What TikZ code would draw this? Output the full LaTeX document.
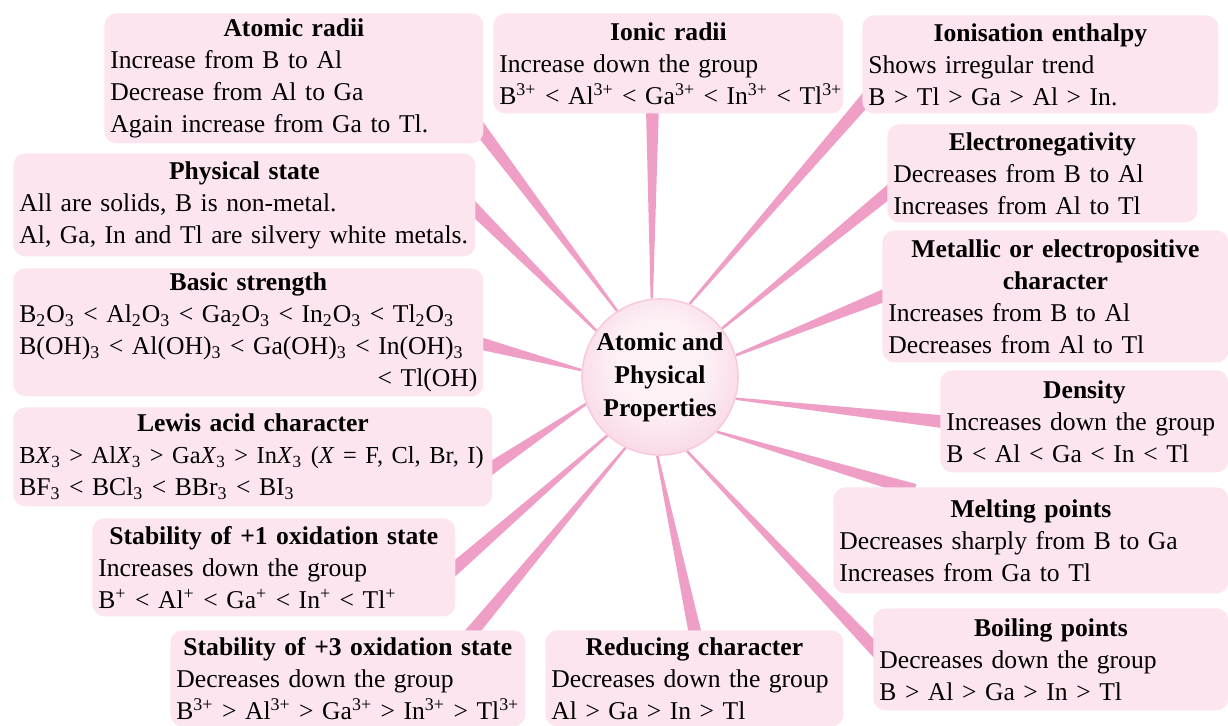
\documentclass[tikz,border=0pt]{standalone}
\usepackage{fontspec}
\setmainfont{Liberation Serif}[WordSpace=0.9]
\usetikzlibrary{calc,backgrounds}

\definecolor{boxpink}{HTML}{FCE5EF}
\definecolor{spokepink}{HTML}{EF9EC6}
\definecolor{hubin}{HTML}{FDF1F6}
\definecolor{hubout}{HTML}{F1A6C8}
\definecolor{hubrim}{HTML}{F8CADF}
\colorlet{hubmid}{hubin!60!hubout}

\pgfdeclareradialshading{hubshade}{\pgfpoint{0bp}{6bp}}{%
  color(0bp)=(hubin); color(14bp)=(hubin); color(32bp)=(hubmid); color(50bp)=(hubout)}

\newcommand\boxtitle[1]{\makebox[\linewidth][c]{\bfseries #1}}
% tapering spoke: wide end (#1) at a box, thin end (#2) on the hub
\newcommand\spoke[2]{%
  \path ($(#1)!-6pt!(#2)$) coordinate (sA) (#2) coordinate (sB);
  \fill[spokepink] ($(sA)!3.3pt!90:(sB)$) -- ($(sA)!3.3pt!-90:(sB)$)
    -- ($(sB)!0.6pt!90:(sA)$) -- ($(sB)!0.6pt!-90:(sA)$) -- cycle;}

\tikzset{
  prop/.style={rounded corners=6pt, fill=boxpink, anchor=north west,
    inner xsep=3pt, inner ysep=1.5pt,
    font=\fontsize{12.8}{16}\selectfont},
  hub/.style={circle, minimum size=78pt, inner sep=0pt, shading=hubshade,
    draw=hubrim, line width=0.8pt, align=center,
    font=\bfseries\fontsize{12.8}{16.5}\selectfont}
}

\begin{document}
\begin{tikzpicture}[x=0.5pt, y=-0.5pt]
  \useasboundingbox (0,0) rectangle (1228,726);

  \node[hub] (hub) at (660,377) {Atomic and\\Physical\\Properties};

  % left column
  \node[prop, text width=183.5pt, minimum height=65pt] (atom) at (104,13)
    {\boxtitle{Atomic radii}\\Increase from B to Al\\Decrease from Al to Ga\\Again increase from Ga to Tl.};
  \node[prop, text width=225pt, minimum height=51.5pt] (phys) at (13,153)
    {\boxtitle{Physical state}\\All are solids, B is non-metal.\\Al, Ga, In and Tl are silvery white metals.};
  \node[prop, text width=229pt, minimum height=64pt] (basic) at (13,268)
    {\boxtitle{Basic strength}\\B\textsubscript{2}O\textsubscript{3} < Al\textsubscript{2}O\textsubscript{3} < Ga\textsubscript{2}O\textsubscript{3} < In\textsubscript{2}O\textsubscript{3} < Tl\textsubscript{2}O\textsubscript{3}\\
     \mbox{B(OH)\textsubscript{3} < Al(OH)\textsubscript{3} < Ga(OH)\textsubscript{3} < In(OH)\textsubscript{3}}\\
     \mbox{}\hfill < Tl(OH)};
  \node[prop, text width=233.5pt, minimum height=49.5pt] (lewis) at (13,407)
    {\boxtitle{Lewis acid character}\\{\fontsize{12.2}{16}\selectfont\mbox{B\textit{X}\textsubscript{3} > Al\textit{X}\textsubscript{3} > Ga\textit{X}\textsubscript{3} > In\textit{X}\textsubscript{3} (\textit{X} = F, Cl, Br, I)}}\\
     BF\textsubscript{3} < BCl\textsubscript{3} < BBr\textsubscript{3} < BI\textsubscript{3}};
  \node[prop, text width=175.5pt, minimum height=49pt] (stabone) at (92,518)
    {\boxtitle{Stability of +1 oxidation state}\\Increases down the group\\
     B\textsuperscript{+} < Al\textsuperscript{+} < Ga\textsuperscript{+} < In\textsuperscript{+} < Tl\textsuperscript{+}};
  \node[prop, text width=171.5pt, minimum height=48pt] (stabthree) at (170,630)
    {\boxtitle{Stability of +3 oxidation state}\\Decreases down the group\\
     \mbox{B\textsuperscript{3+} > Al\textsuperscript{3+} > Ga\textsuperscript{3+} > In\textsuperscript{3+} > Tl\textsuperscript{3+}}};

  % top and bottom middle
  \node[prop, text width=169pt, minimum height=50pt] (ionic) at (493,13)
    {\boxtitle{Ionic radii}\\Increase down the group\\
     \mbox{B\textsuperscript{3+} < Al\textsuperscript{3+} < Ga\textsuperscript{3+} < In\textsuperscript{3+} < Tl\textsuperscript{3+}}};
  \node[prop, text width=143pt, minimum height=48pt] (reduc) at (545,630)
    {\boxtitle{Reducing character}\\Decreases down the group\\Al > Ga > In > Tl};

  % right column
  \node[prop, text width=172pt, minimum height=49pt] (ionis) at (862,15)
    {\boxtitle{Ionisation enthalpy}\\Shows irregular trend\\B > Tl > Ga > Al > In.};
  \node[prop, text width=149pt, minimum height=49pt] (eneg) at (887,124)
    {\boxtitle{Electronegativity}\\Decreases from B to Al\\Increases from Al to Tl};
  \node[prop, text width=167pt, minimum height=66pt] (metal) at (882,230)
    {\boxtitle{Metallic or electropositive}\\\boxtitle{character}\\Increases from B to Al\\Decreases from Al to Tl};
  \node[prop, text width=138pt, minimum height=51pt] (dens) at (940,370)
    {\boxtitle{Density}\\Increases down the group\\B < Al < Ga < In < Tl};
  \node[prop, text width=191.5pt, minimum height=53pt] (melt) at (833,487)
    {\boxtitle{Melting points}\\Decreases sharply from B to Ga\\Increases from Ga to Tl};
  \node[prop, text width=171.5pt, minimum height=51pt] (boil) at (873,608)
    {\boxtitle{Boiling points}\\Decreases down the group\\B > Al > Ga > In > Tl};

  % where the spokes meet the boxes
  \coordinate (atomS) at ([yshift=5pt]atom.south east);
  \coordinate (physS) at ([yshift=-3pt]phys.east);
  \coordinate (basicS) at ([yshift=-6pt]basic.east);
  \coordinate (lewisS) at ([yshift=-5pt]lewis.east);
  \coordinate (staboneS) at (stabone.east);
  \coordinate (stabthreeS) at ([xshift=-26pt]stabthree.north east);
  \coordinate (reducS) at (reduc.north);
  \coordinate (ionicS) at ([xshift=-8pt]ionic.south);
  \coordinate (ionisS) at ([yshift=5pt]ionis.south west);
  \coordinate (enegS) at ([yshift=-10pt]eneg.west);
  \coordinate (metalS) at (metal.west);
  \coordinate (densS) at (dens.west);
  \coordinate (meltS) at ([xshift=35pt]melt.north west);
  \coordinate (boilS) at ([yshift=6pt]boil.west);

  \begin{pgfonlayer}{background}
    \spoke{atomS}{hub.123}
    \spoke{physS}{hub.144}
    \spoke{basicS}{hub.175}
    \spoke{lewisS}{hub.200}
    \spoke{staboneS}{hub.228}
    \spoke{stabthreeS}{hub.244}
    \spoke{reducS}{hub.268}
    \spoke{boilS}{hub.290}
    \spoke{meltS}{hub.316}
    \spoke{densS}{hub.344}
    \spoke{metalS}{hub.16}
    \spoke{enegS}{hub.38}
    \spoke{ionisS}{hub.68}
    \spoke{ionicS}{hub.96}
  \end{pgfonlayer}
\end{tikzpicture}
\end{document}
